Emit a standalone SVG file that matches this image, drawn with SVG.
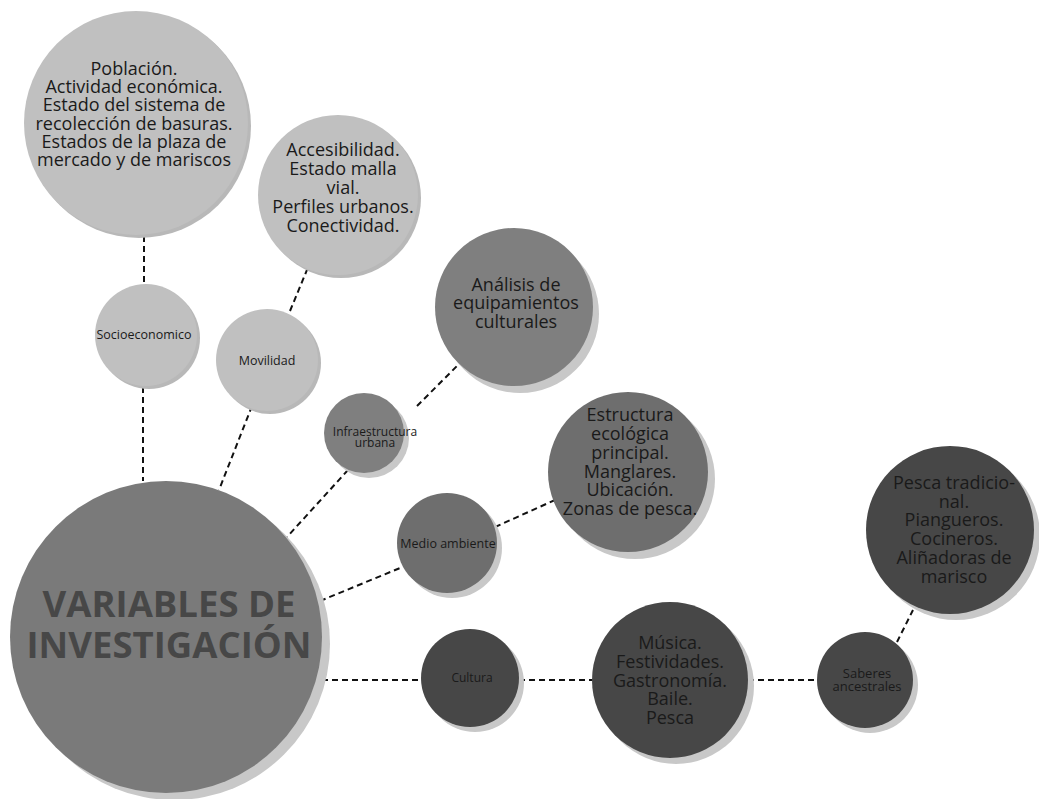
<svg xmlns="http://www.w3.org/2000/svg" width="1039" height="799" viewBox="0 0 1039 799">
<style>
.t{font-family:"Open Sans","Noto Sans","Liberation Sans",sans-serif;text-anchor:middle;fill:#1a1a1a}
.big{font-size:18px}
.sm{font-size:12.5px}
.light{fill:#c0c0c0}
.lsh{fill:#b8b8b8}
.mid{fill:#7f7f7f}
.dk{fill:#474747}
.sh{fill:#c8c8c8}
.conn line{stroke:#111;stroke-width:2;stroke-dasharray:6 4;fill:none}
</style>
<rect width="1039" height="799" fill="#fff"/>
<g class="conn">
<line x1="144" y1="236" x2="144" y2="283"/>
<line x1="143" y1="387" x2="143" y2="481"/>
<line x1="290" y1="311" x2="309" y2="265"/>
<line x1="252" y1="406" x2="219" y2="490"/>
<line x1="417" y1="406" x2="458" y2="365"/>
<line x1="348" y1="470" x2="287" y2="537"/>
<line x1="495" y1="527" x2="555" y2="500"/>
<line x1="320" y1="601" x2="400" y2="568"/>
<line x1="322" y1="680" x2="421" y2="680"/>
<line x1="519" y1="680" x2="592" y2="680"/>
<line x1="748" y1="680" x2="816" y2="680"/>
<line x1="897" y1="642" x2="913" y2="610"/>
</g>
<g id="poblacion">
<circle class="lsh" cx="139" cy="126" r="112"/>
<circle class="light" cx="136" cy="123" r="112"/>
<text class="t big"><tspan x="134" y="75">Población.</tspan><tspan x="134" y="93">Actividad económica.</tspan><tspan x="134" y="111">Estado del sistema de</tspan><tspan x="134" y="130">recolección de basuras.</tspan><tspan x="134" y="148">Estados de la plaza de</tspan><tspan x="134" y="166">mercado y de mariscos</tspan></text>
</g>
<g id="accesibilidad">
<circle class="lsh" cx="341" cy="198" r="80"/>
<circle class="light" cx="338" cy="195" r="80"/>
<text class="t big"><tspan x="343" y="156">Accesibilidad.</tspan><tspan x="343" y="175">Estado malla</tspan><tspan x="343" y="194">vial.</tspan><tspan x="343" y="213">Perfiles urbanos.</tspan><tspan x="343" y="232">Conectividad.</tspan></text>
</g>
<g id="socioeconomico">
<circle class="lsh" cx="149" cy="338" r="51"/>
<circle class="light" cx="146" cy="335" r="51"/>
<text class="t sm" x="144" y="339">Socioeconomico</text>
</g>
<g id="movilidad">
<circle class="lsh" cx="270" cy="363" r="51"/>
<circle class="light" cx="267" cy="360" r="51"/>
<text class="t sm" x="267" y="365">Movilidad</text>
</g>
<g id="analisis">
<circle class="sh" cx="520" cy="314" r="79"/>
<circle class="mid" cx="514" cy="307" r="79"/>
<text class="t big"><tspan x="516" y="291">Análisis de</tspan><tspan x="516" y="309">equipamientos</tspan><tspan x="516" y="328">culturales</tspan></text>
</g>
<g id="infraestructura">
<circle class="sh" cx="369" cy="438" r="40"/>
<circle class="mid" cx="364" cy="433" r="40"/>
<text class="t sm" style="font-size:12px"><tspan x="375" y="436">Infraestructura</tspan><tspan x="375" y="447">urbana</tspan></text>
</g>
<g id="estructura">
<circle class="sh" cx="635" cy="479" r="80"/>
<circle class="mid" cx="628" cy="472" r="80" style="fill:#6e6e6e"/>
<text class="t big"><tspan x="630" y="421">Estructura</tspan><tspan x="630" y="440">ecológica</tspan><tspan x="630" y="459">principal.</tspan><tspan x="630" y="478">Manglares.</tspan><tspan x="630" y="496">Ubicación.</tspan><tspan x="630" y="515">Zonas de pesca.</tspan></text>
</g>
<g id="medio">
<circle class="sh" cx="452" cy="548" r="50"/>
<circle class="mid" cx="447" cy="543" r="50" style="fill:#6e6e6e"/>
<text class="t sm" x="448" y="548">Medio ambiente</text>
</g>
<g id="variables">
<circle class="sh" cx="174" cy="644" r="156"/>
<circle class="mid" cx="166" cy="637" r="156" style="fill:#7a7a7a"/>
<text class="t" style="font-size:36.5px;font-weight:700;fill:#474747"><tspan x="169" y="617">VARIABLES DE</tspan><tspan x="169" y="658">INVESTIGACIÓN</tspan></text>
</g>
<g id="cultura">
<circle class="sh" cx="475" cy="683" r="49"/>
<circle class="dk" cx="470" cy="678" r="49"/>
<text class="t sm" style="font-size:12px" x="472" y="682">Cultura</text>
</g>
<g id="musica">
<circle class="sh" cx="676" cy="686" r="78"/>
<circle class="dk" cx="670" cy="680" r="78"/>
<text class="t big"><tspan x="670" y="649">Música.</tspan><tspan x="670" y="668">Festividades.</tspan><tspan x="670" y="687">Gastronomía.</tspan><tspan x="670" y="705">Baile.</tspan><tspan x="670" y="724">Pesca</tspan></text>
</g>
<g id="saberes">
<circle class="sh" cx="870" cy="685" r="48"/>
<circle class="dk" cx="865" cy="680" r="48"/>
<text class="t sm" style="font-size:13px"><tspan x="867" y="678">Saberes</tspan><tspan x="867" y="691">ancestrales</tspan></text>
</g>
<g id="pesca">
<circle class="sh" cx="956" cy="536" r="84"/>
<circle class="dk" cx="950" cy="530" r="84"/>
<text class="t big"><tspan x="954" y="489">Pesca tradicio-</tspan><tspan x="954" y="508">nal.</tspan><tspan x="954" y="526">Piangueros.</tspan><tspan x="954" y="545">Cocineros.</tspan><tspan x="954" y="564">Aliñadoras de</tspan><tspan x="954" y="583">marisco</tspan></text>
</g>
</svg>
